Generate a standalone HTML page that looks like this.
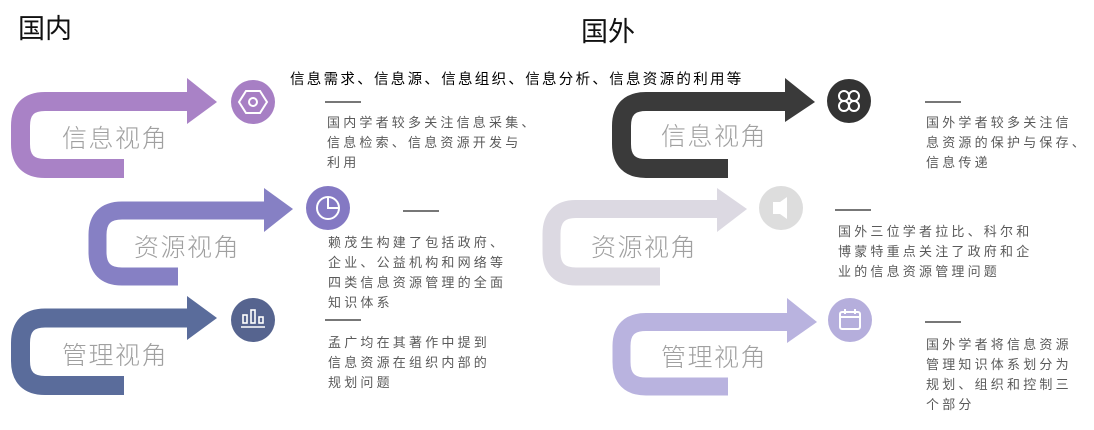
<!DOCTYPE html>
<html><head><meta charset="utf-8"><style>
body{margin:0;width:1094px;height:430px;background:#fff;overflow:hidden;position:relative;font-family:"Liberation Sans","Noto Sans CJK SC",sans-serif}
.a{position:absolute;white-space:nowrap}
.h{font-size:27px;color:#111;line-height:30px}
.big{font-size:25px;color:#a0a0a0;letter-spacing:1.5px;line-height:30px;font-weight:300}
.t{font-size:13px;color:#5a5a5a;letter-spacing:3.2px;line-height:20px}
.d{position:absolute;height:2px;background:#777}
</style></head><body>
<svg class="a" style="left:0;top:0" width="1094" height="430">
<g fill="none" stroke-linejoin="round">
 <path d="M190 101.5H45Q20.5 101.5 20.5 126V144Q20.5 168.5 45 168.5H124" stroke="#a982c6" stroke-width="19"/>
 <path d="M267 210.5H122Q97.5 210.5 97.5 235V252Q97.5 276.5 122 276.5H178" stroke="#8680c4" stroke-width="18"/>
 <path d="M190 318H45Q20.5 318 20.5 343V361Q20.5 385.5 45 385.5H124" stroke="#5a6c9b" stroke-width="19"/>
 <path d="M788 101.5H646Q621.5 101.5 621.5 126V144Q621.5 168.5 646 168.5H728" stroke="#3a3a3a" stroke-width="19"/>
 <path d="M720 209H576Q551.5 209 551.5 234V252Q551.5 276.5 576 276.5H660" stroke="#dcd9e2" stroke-width="18"/>
 <path d="M790 322H646Q621.5 322 621.5 346V362Q621.5 386.5 646 386.5H728" stroke="#b9b3df" stroke-width="18"/>
</g>
<polygon points="187,78 217,102 187,124" fill="#a982c6"/>
<polygon points="264,188 293,209 264,232" fill="#8680c4"/>
<polygon points="187,296 217,318 187,340" fill="#5a6c9b"/>
<polygon points="785,78 815,102 785,122" fill="#3a3a3a"/>
<polygon points="717,188 747,209 717,232" fill="#dcd9e2"/>
<polygon points="787,298 817,322 787,343" fill="#b9b3df"/>
<circle cx="253" cy="102" r="22" fill="#a77fc4"/>
<polygon points="246,91 260,91 267,102 260,113 246,113 239,102" fill="none" stroke="#fff" stroke-width="2"/>
<circle cx="253" cy="102" r="4" fill="none" stroke="#fff" stroke-width="2"/>
<circle cx="328" cy="208" r="22" fill="#8479c3"/>
<circle cx="328" cy="208" r="11" fill="none" stroke="#fff" stroke-width="2"/>
<path d="M328 197V208H339" fill="none" stroke="#fff" stroke-width="2"/>
<circle cx="253" cy="320" r="22" fill="#56648f"/>
<g fill="none" stroke="#fff" stroke-width="1.6"><rect x="243" y="315" width="4" height="8"/><rect x="251" y="310" width="4" height="13"/><rect x="259" y="317" width="4" height="6"/><path d="M241 327H265"/></g>
<circle cx="849" cy="101" r="22" fill="#333"/>
<g fill="none" stroke="#fff" stroke-width="2"><circle cx="844" cy="96" r="5"/><circle cx="854" cy="96" r="5"/><circle cx="844" cy="106" r="5"/><circle cx="854" cy="106" r="5"/></g>
<circle cx="781" cy="208" r="22" fill="#ddd"/>
<path d="M773 202H780L787 197V219L780 214H773Z" fill="#fff"/>
<circle cx="850" cy="320" r="22" fill="#b5aedc"/>
<rect x="840" y="312" width="20" height="17" rx="2" fill="none" stroke="#fff" stroke-width="2"/>
<path d="M840 317H860M845 309V314M855 309V314" stroke="#fff" stroke-width="2"/>
</svg>
<div class="a h" style="left:18px;top:14px">国内</div>
<div class="a h" style="left:581px;top:17px">国外</div>
<div class="a" style="left:290px;top:68px;font-size:14.5px;letter-spacing:2.3px;color:#000">信息需求、信息源、信息组织、信息分析、信息资源的利用等</div>
<div class="a big" style="left:62px;top:124px">信息视角</div>
<div class="a big" style="left:134px;top:233px">资源视角</div>
<div class="a big" style="left:62px;top:341px">管理视角</div>
<div class="a big" style="left:661px;top:122px">信息视角</div>
<div class="a big" style="left:591px;top:233px">资源视角</div>
<div class="a big" style="left:661px;top:343px">管理视角</div>
<div class="d" style="left:325px;top:101px;width:36px"></div>
<div class="a t" style="left:327px;top:113px">国内学者较多关注信息采集、<br>信息检索、信息资源开发与<br>利用</div>
<div class="d" style="left:403px;top:210px;width:36px"></div>
<div class="a t" style="left:328px;top:233px">赖茂生构建了包括政府、<br>企业、公益机构和网络等<br>四类信息资源管理的全面<br>知识体系</div>
<div class="d" style="left:325px;top:319px;width:36px"></div>
<div class="a t" style="left:328px;top:333px">孟广均在其著作中提到<br>信息资源在组织内部的<br>规划问题</div>
<div class="d" style="left:925px;top:101px;width:36px"></div>
<div class="a t" style="left:926px;top:113px">国外学者较多关注信<br>息资源的保护与保存、<br>信息传递</div>
<div class="d" style="left:835px;top:209px;width:36px"></div>
<div class="a t" style="left:838px;top:222px">国外三位学者拉比、科尔和<br>博蒙特重点关注了政府和企<br>业的信息资源管理问题</div>
<div class="d" style="left:925px;top:321px;width:36px"></div>
<div class="a t" style="left:926px;top:335px">国外学者将信息资源<br>管理知识体系划分为<br>规划、组织和控制三<br>个部分</div>
</body></html>
